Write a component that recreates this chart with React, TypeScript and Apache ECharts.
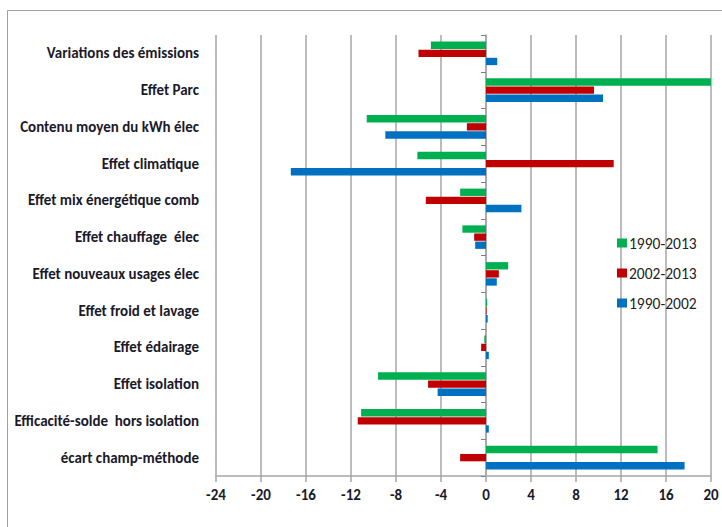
import React, { useEffect, useRef } from "react";
import * as echarts from "echarts";

const categories = [
  "Variations des émissions",
  "Effet Parc",
  "Contenu moyen du kWh élec",
  "Effet climatique",
  "Effet mix énergétique comb",
  "Effet chauffage  élec",
  "Effet nouveaux usages élec",
  "Effet froid et lavage",
  "Effet édairage",
  "Effet isolation",
  "Efficacité-solde  hors isolation",
  "écart champ-méthode",
];

const s1990_2013 = [-4.9, 20.0, -10.6, -6.1, -2.3, -2.1, 1.97, 0.1, -0.15, -9.6, -11.1, 15.25];
const s2002_2013 = [-6.0, 9.6, -1.7, 11.35, -5.35, -1.05, 1.14, 0.05, -0.43, -5.15, -11.4, -2.3];
const s1990_2002 = [1.0, 10.4, -8.95, -17.35, 3.15, -0.96, 0.96, 0.15, 0.25, -4.3, 0.25, 17.65];

const xTicks = { min: -24, max: 20, interval: 4 };

const seriesNames = ["1990-2013", "2002-2013", "1990-2002"];
const seriesColors = ["#00B050", "#C00000", "#0070C0"];

export default function App() {
  const ref = useRef<HTMLDivElement>(null);
  useEffect(() => {
    const chart = echarts.init(ref.current!, null, { renderer: "svg" });
    const font = "Calibri, Carlito, 'Open Sans', 'Noto Sans', sans-serif";
    const data = [s1990_2013, s2002_2013, s1990_2002];
    chart.setOption({
      animation: false,
      textStyle: { fontFamily: font },
      graphic: [
        {
          type: "rect",
          shape: { x: 7.5, y: 10.5, width: 740, height: 560 },
          style: { fill: "none", stroke: "#a0a0a0", lineWidth: 1 },
          silent: true,
        },
      ],
      grid: { left: 216, right: 11, top: 35, bottom: 51, containLabel: false },
      legend: {
        orient: "vertical",
        left: 612,
        top: 230,
        itemWidth: 10,
        itemHeight: 9,
        itemGap: 14,
        icon: "rect",
        textStyle: { fontSize: 15.5, color: "#222", fontFamily: font, padding: [0, 0, 0, -3] },
        data: seriesNames,
      },
      xAxis: {
        type: "value",
        min: xTicks.min,
        max: xTicks.max,
        interval: xTicks.interval,
        axisLine: { show: true, onZero: false, lineStyle: { color: "#a6a6a6", width: 1.5 } },
        axisTick: { show: true, length: 6, lineStyle: { color: "#a6a6a6", width: 1.5 } },
        axisLabel: { fontSize: 15, fontWeight: "bold", color: "#1a1a2a", margin: 11, fontFamily: font },
        splitLine: { show: true, lineStyle: { color: "#a6a6a6", width: 1.5 } },
      },
      yAxis: [
        {
          type: "category",
          inverse: true,
          data: categories,
          axisLine: { show: false, onZero: false },
          axisTick: { show: false },
          axisLabel: { fontSize: 15, fontWeight: "bold", color: "#1a1a2a", margin: 17, fontFamily: font },
          splitLine: { show: false },
        },
        {
          type: "category",
          inverse: true,
          position: "left",
          data: categories,
          axisLine: { show: true, onZero: true, lineStyle: { color: "#a6a6a6", width: 1.5 } },
          axisTick: { show: true, length: 5, lineStyle: { color: "#7f7f7f", width: 1 } },
          axisLabel: { show: false },
          splitLine: { show: false },
        },
      ],
      series: seriesNames.map((name, i) => ({
        name,
        type: "bar",
        yAxisIndex: 0,
        data: data[i],
        barCategoryGap: "36%",
        barGap: "10%",
        itemStyle: { color: seriesColors[i] },
      })),
    });
    return () => chart.dispose();
  }, []);
  return (
    <div
      ref={ref}
      style={{ position: "absolute", left: 0, top: 0, width: 722, height: 527 }}
    />
  );
}
